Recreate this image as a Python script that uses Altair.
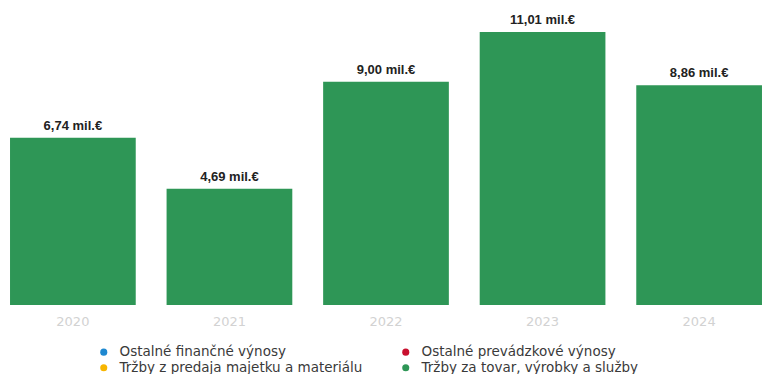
import altair as alt
import pandas as pd

years = ["2020", "2021", "2022", "2023", "2024"]
series = [
    "Ostalné finančné výnosy",
    "Ostalné prevádzkové výnosy",
    "Tržby z predaja majetku a materiálu",
    "Tržby za tovar, výrobky a služby",
]
colors = ["#1e88d0", "#c8102e", "#f7b500", "#2e9656"]
trzby_tovar = [6.74, 4.69, 9.00, 11.01, 8.86]
ostatne_fin = [0, 0, 0, 0, 0]
ostatne_prev = [0, 0, 0, 0, 0]
trzby_majetok = [0, 0, 0, 0, 0]
labels = ["6,74 mil.€", "4,69 mil.€", "9,00 mil.€", "11,01 mil.€", "8,86 mil.€"]

rows = []
for i, y in enumerate(years):
    for s, vals in zip(series, [ostatne_fin, ostatne_prev, trzby_majetok, trzby_tovar]):
        rows.append({"rok": y, "séria": s, "hodnota": vals[i], "order": series.index(s)})
df = pd.DataFrame(rows)
tot = pd.DataFrame({
    "rok": years,
    "spolu": [a + b + c + d for a, b, c, d in zip(ostatne_fin, ostatne_prev, trzby_majetok, trzby_tovar)],
    "label": labels,
})

xenc = alt.X("rok:N", sort=years, title=None,
             scale=alt.Scale(paddingInner=0.197, paddingOuter=0.064),
             axis=alt.Axis(labelAngle=0, ticks=False, domain=False, labelColor="#d2d2d2",
                           labelFontSize=13, labelPadding=10, labelFont="DejaVu Sans"))
yscale = alt.Scale(domain=[0, 12.3], nice=False, zero=True)

bars = alt.Chart(df).mark_bar().encode(
    x=xenc,
    y=alt.Y("hodnota:Q", stack="zero", scale=yscale, axis=None),
    color=alt.Color("séria:N", scale=alt.Scale(domain=series, range=colors),
                    legend=alt.Legend(title=None, orient="none", legendX=97, legendY=345,
                                      direction="horizontal",
                                      columns=2, columnPadding=36, rowPadding=1,
                                      symbolType="circle", symbolSize=50, labelOffset=9,
                                      labelFontSize=13.5, labelColor="#3a3a3a", labelLimit=400,
                                      labelFont="DejaVu Sans", symbolStrokeWidth=0)),
    order=alt.Order("order:Q", sort="descending"),
)

text = alt.Chart(tot).mark_text(dy=-5, fontWeight="bold", fontSize=13, color="#222222",
                                font="Liberation Sans", baseline="bottom").encode(
    x=alt.X("rok:N", sort=years),
    y=alt.Y("spolu:Q", scale=yscale),
    text="label:N",
)

chart = (bars + text).properties(
    width=772, height=305,
    autosize=alt.AutoSizeParams(type="none"),
    padding={"left": 0, "top": 0, "right": 5, "bottom": 69},
).configure_view(stroke=None)

chart.save("out.html", embed_options={"renderer": "svg", "actions": False})
